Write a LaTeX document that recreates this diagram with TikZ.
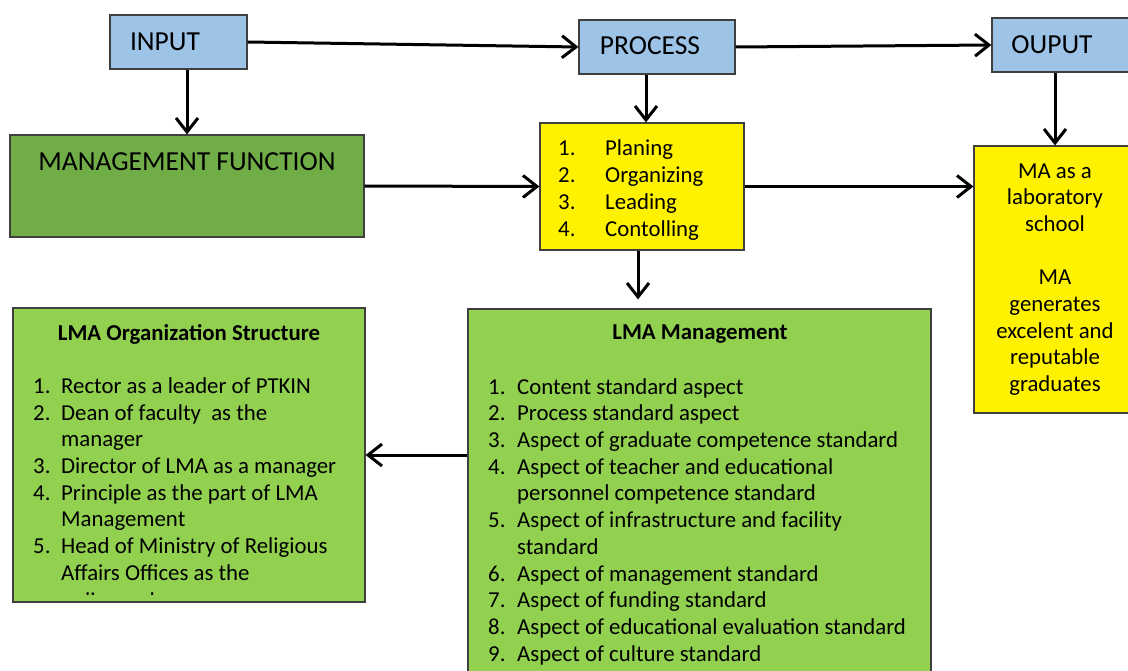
\documentclass[tikz,border=0pt]{standalone}
\usepackage{fontspec}
\setmainfont{Carlito}
\usetikzlibrary{positioning}
\usetikzlibrary{arrows.meta,shapes}

\definecolor{inblue}{HTML}{9DC3E6}
\definecolor{mfgreen}{HTML}{70AD47}
\definecolor{lmagreen}{HTML}{92D050}
\definecolor{boxline}{HTML}{3F3F3F}

% numbered line, and the hanging indent of its second line
\newcommand{\itm}[3]{\makebox[#1][l]{#2.}#3}
\newcommand{\hang}[2]{\hspace*{#1}#2}

\begin{document}
\begin{tikzpicture}[x=1pt,y=-1pt,
  box/.style={draw=boxline,line width=1.2pt,inner sep=0pt},
  big/.style={font=\fontsize{27.5}{33}\selectfont,inner sep=0pt},
  txt/.style={font=\fontsize{22.8}{26.7}\selectfont,align=left,inner sep=0pt},
  ttl/.style={font=\fontsize{22.8}{26.7}\selectfont\bfseries,inner sep=0pt},
  arr/.style={line width=3pt,-{Straight Barb[length=14pt,width=22pt]}}]
\useasboundingbox (0,0) rectangle (1128,671);

% input - process - output
\node[box,fill=inblue,minimum width=137pt,minimum height=54pt](in) at (178.5,42){};
\node[big](intxt) at (165,41.5){INPUT};
\node[box,fill=inblue,minimum width=156pt,minimum height=54pt](proc) at (657,47){};
\node[big](proctxt) at (650,46){PROCESS};
\node[box,fill=inblue,minimum width=160pt,minimum height=54pt](out) at (1072,45){};
\node[big](outtxt) at (1052,44.5){OUPUT};

\node[box,fill=mfgreen,minimum width=354pt,minimum height=102pt](mf) at (187,186){};
\node[big](mftxt) at (187,162){MANAGEMENT FUNCTION};

\node[box,fill=yellow,minimum width=204pt,minimum height=127pt](pl) at (642,186.5){};
\node[txt,anchor=west](pltxt) at (558,190){\itm{47pt}{1}{Planing}\\
  \itm{47pt}{2}{Organizing}\\
  \itm{47pt}{3}{Leading}\\
  \itm{47pt}{4}{Contolling}};

\node[box,txt,align=center,fill=yellow,minimum width=162pt,minimum height=267pt](res) at (1055,279.5)
  {MA as a\\laboratory\\school\\[26.7pt]MA\\generates\\excelent and\\reputable\\graduates};

% organization structure
\node[box,fill=lmagreen,minimum width=352pt,minimum height=294pt](org) at (189,455){};
\node[ttl](orgtitle) at (189,334.5){LMA Organization Structure};
\node[txt,anchor=west](orglist) at (33,479){\itm{28pt}{1}{Rector as a leader of PTKIN}\\
  \itm{28pt}{2}{Dean of faculty\ \ as the}\\
  \hang{28pt}{manager}\\
  \itm{28pt}{3}{Director of LMA as a manager}\\
  \itm{28pt}{4}{Principle as the part of LMA}\\
  \hang{28pt}{Management}\\
  \itm{28pt}{5}{Head of Ministry of Religious}\\
  \hang{28pt}{Affairs Offices as the}};
\begin{scope}
\clip (org.north west) rectangle (365,594);
\node[txt,anchor=west](orgcut) at (61,602){policy makers};
\end{scope}

% management standards
\node[box,fill=lmagreen,minimum width=463pt,minimum height=380pt](lma) at (699.5,499){};
\node[ttl](lmatitle) at (700,334){LMA Management};
\node[txt,anchor=west](lmalist) at (488,521.6){\itm{29pt}{1}{Content standard aspect}\\
  \itm{29pt}{2}{Process standard aspect}\\
  \itm{29pt}{3}{Aspect of graduate competence standard}\\
  \itm{29pt}{4}{Aspect of teacher and educational}\\
  \hang{29pt}{personnel competence standard}\\
  \itm{29pt}{5}{Aspect of infrastructure and facility}\\
  \hang{29pt}{standard}\\
  \itm{29pt}{6}{Aspect of management standard}\\
  \itm{29pt}{7}{Aspect of funding standard}\\
  \itm{29pt}{8}{Aspect of educational evaluation standard}\\
  \itm{29pt}{9}{Aspect of culture standard}};

% arrows
\draw[arr](in.east)--(proc.west);
\draw[arr](in.south -| mf.north)--(mf.north);
\draw[arr](proc.east)--(out.west);
\draw[arr]([xshift=4pt]pl.north |- proc.south)--([xshift=4pt]pl.north);
\draw[arr](mf.east)--(pl.west);
\draw[arr](pl.east)--(pl.east -| res.west);
\draw[arr](out.south -| res.north)--(res.north);
\draw[arr,shorten >=9pt]([xshift=-4pt]pl.south)--([xshift=-4pt]pl.south |- lma.north);
\draw[arr](lma.west |- org.east)--(org.east);
\end{tikzpicture}
\end{document}
